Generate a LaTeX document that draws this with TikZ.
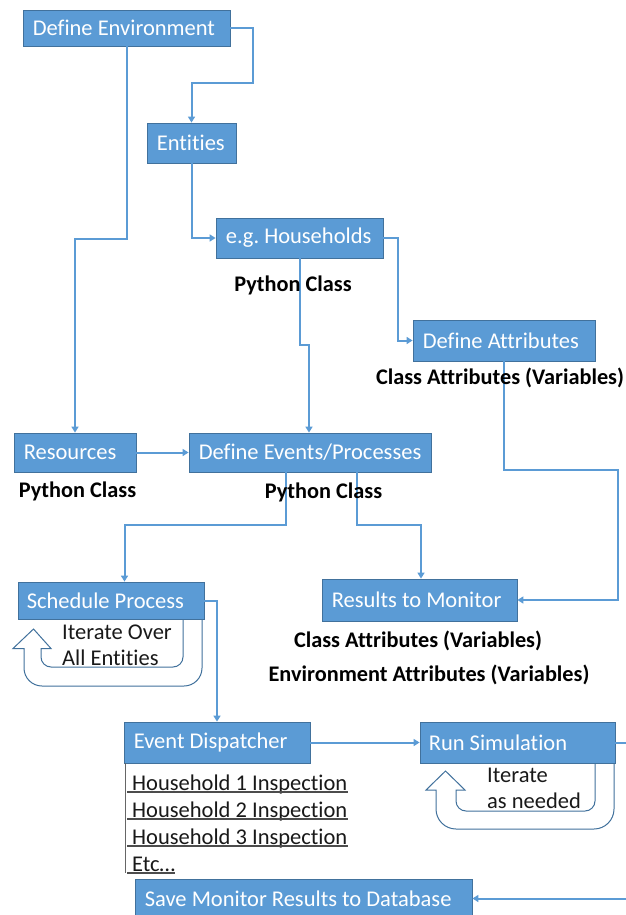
\documentclass[tikz,border=0pt]{standalone}
\usepackage{fontspec}
\setmainfont{Carlito}[Ligatures=NoCommon]
\usetikzlibrary{arrows.meta,calc}
\definecolor{boxblue}{HTML}{5B9BD5}
\definecolor{edgeblue}{HTML}{41719C}
\begin{document}
\begin{tikzpicture}[x=1pt,y=1pt,
  box/.style={draw=edgeblue,line width=0.8pt,fill=boxblue,inner sep=0pt},
  btext/.style={anchor=west,inner sep=0pt,text=white,font=\fontsize{22.5}{26}\selectfont},
  lbl/.style={font=\fontsize{22.3}{26}\selectfont\bfseries,inner sep=0pt},
  plain/.style={font=\fontsize{22.5}{26}\selectfont,inner sep=0pt,text=black!90},
  conn/.style={draw=boxblue,line width=2pt,-{Triangle[length=6pt,width=7pt]}},
  loopshape/.style={draw=edgeblue,line width=1pt,fill=white},
  ul/.style={draw=black!70,line width=1.2pt}]
\useasboundingbox (0,0) rectangle (626,-915);
\clip (0,0) rectangle (626,-915);

% loops (behind boxes)
\draw[loopshape] (202,-619) -- (202,-668) arc[start angle=0,end angle=-90,radius=18]
  -- (42,-686) arc[start angle=270,end angle=180,radius=18] -- (24,-648.5) -- (13,-648.5)
  -- (33.5,-629) -- (51,-648.5) -- (41,-648.5) -- (41,-657) arc[start angle=180,end angle=270,radius=10]
  -- (173,-667) arc[start angle=-90,end angle=0,radius=10] -- (183,-619);
\draw[loopshape] (614,-763) -- (614,-809) arc[start angle=0,end angle=-90,radius=20]
  -- (456,-829) arc[start angle=270,end angle=180,radius=20] -- (436,-790) -- (426,-790)
  -- (445.5,-771) -- (465,-790) -- (456,-790) -- (456,-801) arc[start angle=180,end angle=270,radius=10]
  -- (585,-811) arc[start angle=-90,end angle=0,radius=10] -- (595,-763);

% boxes
\node[box,minimum width=207pt,minimum height=36pt] (env) at (126.5,-28) {};
\node[box,minimum width=89pt,minimum height=40pt] (ent) at (191.5,-143) {};
\node[box,minimum width=167pt,minimum height=40pt] (hh) at (299.5,-238) {};
\node[box,minimum width=182pt,minimum height=41pt] (attr) at (504,-340.5) {};
\node[box,minimum width=122pt,minimum height=39pt] (res) at (75,-452.5) {};
\node[box,minimum width=242pt,minimum height=39pt] (ev) at (310,-452.5) {};
\node[box,minimum width=186pt,minimum height=37pt] (sched) at (111,-600.5) {};
\node[box,minimum width=195pt,minimum height=42pt] (mon) at (419.5,-600) {};
\node[box,minimum width=186pt,minimum height=41pt] (disp) at (217,-742.5) {};
\node[box,minimum width=195pt,minimum height=41pt] (run) at (517.5,-742.5) {};
\node[box,minimum width=337pt,minimum height=39pt] (save) at (303.5,-898.5) {};

\node[btext] (envt) at ([xshift=10pt]env.west) {Define Environment};
\node[btext] (entt) at ([xshift=10pt]ent.west) {Entities};
\node[btext] (hht) at ([xshift=10pt]hh.west) {e.g.\ Households};
\node[btext] (attrt) at ([xshift=10pt]attr.west) {Define Attributes};
\node[btext] (rest) at ([xshift=10pt]res.west) {Resources};
\node[btext] (evt) at ([xshift=10pt]ev.west) {Define Events/Processes};
\node[btext] (schedt) at ([xshift=9pt]sched.west) {Schedule Process};
\node[btext] (mont) at ([xshift=10pt]mon.west) {Results to Monitor};
\node[btext] (dispt) at ([xshift=10pt]disp.west) {Event Dispatcher};
\node[btext] (runt) at ([xshift=9pt]run.west) {Run Simulation};
\node[btext] (savet) at ([xshift=10pt]save.west) {Save Monitor Results to Database};

% connectors
\draw[conn] (env.east) -- (253,-28) -- (253,-83) -| (ent.north);
\draw[conn] (env.south) |- (75,-239) -- (res.north);
\draw[conn] (ent.south) |- (hh.west);
\draw[conn] (hh.east) -- (398,-238) |- (attr.west);
\draw[conn] (hh.south) |- (309,-345) -- ([xshift=-1pt]ev.north);
\draw[conn] (attr.south) -- (504,-470) -- (618,-470) |- (mon.east);
\draw[conn] (res.east) -- (ev.west);
\draw[conn] ([xshift=-24pt]ev.south) |- (124.5,-525) -- ([xshift=13.5pt]sched.north);
\draw[conn] ([xshift=47pt]ev.south) |- (421,-525) -- ([xshift=1.5pt]mon.north);
\draw[conn] (sched.east) -| (disp.north);
\draw[conn] (disp.east) -- (run.west);
\draw[conn] (run.east) -- (632,-742.5) |- (save.east);

% labels
\node[lbl] (pc1) at (293,-285) {Python Class};
\node[lbl] (ca1) at (500,-378) {Class Attributes (Variables)};
\node[lbl] (pc2) at (77.5,-491) {Python Class};
\node[lbl] (pc3) at (323.5,-492) {Python Class};
\node[lbl] (ca2) at (418,-641) {Class Attributes (Variables)};
\node[lbl] (ea) at (429,-675) {Environment Attributes (Variables)};

% loop texts
\node[plain,anchor=west] (it1) at (62,-632) {Iterate Over};
\node[plain,anchor=west] (it2) at (62,-658) {All Entities};
\node[plain,anchor=west] (it3) at (487,-775) {Iterate};
\node[plain,anchor=west] (it4) at (487,-801) {as needed};

% event list
\draw[draw=black!60,line width=0.8pt] ([xshift=1.5pt]disp.south west) -- ++(0,-110);
\node[plain,anchor=base west] (l1) at (127,-790) {\hspace*{5pt}Household 1 Inspection};
\node[plain,anchor=base west] (l2) at (127,-817) {\hspace*{5pt}Household 2 Inspection};
\node[plain,anchor=base west] (l3) at (127,-844) {\hspace*{5pt}Household 3 Inspection};
\node[plain,anchor=base west] (l4) at (127,-871) {\hspace*{5pt}Etc…};
\foreach \n in {l1,l2,l3,l4}
  \draw[ul] ([yshift=-2pt]\n.base west) -- ([yshift=-2pt]\n.base east);
\end{tikzpicture}
\end{document}
